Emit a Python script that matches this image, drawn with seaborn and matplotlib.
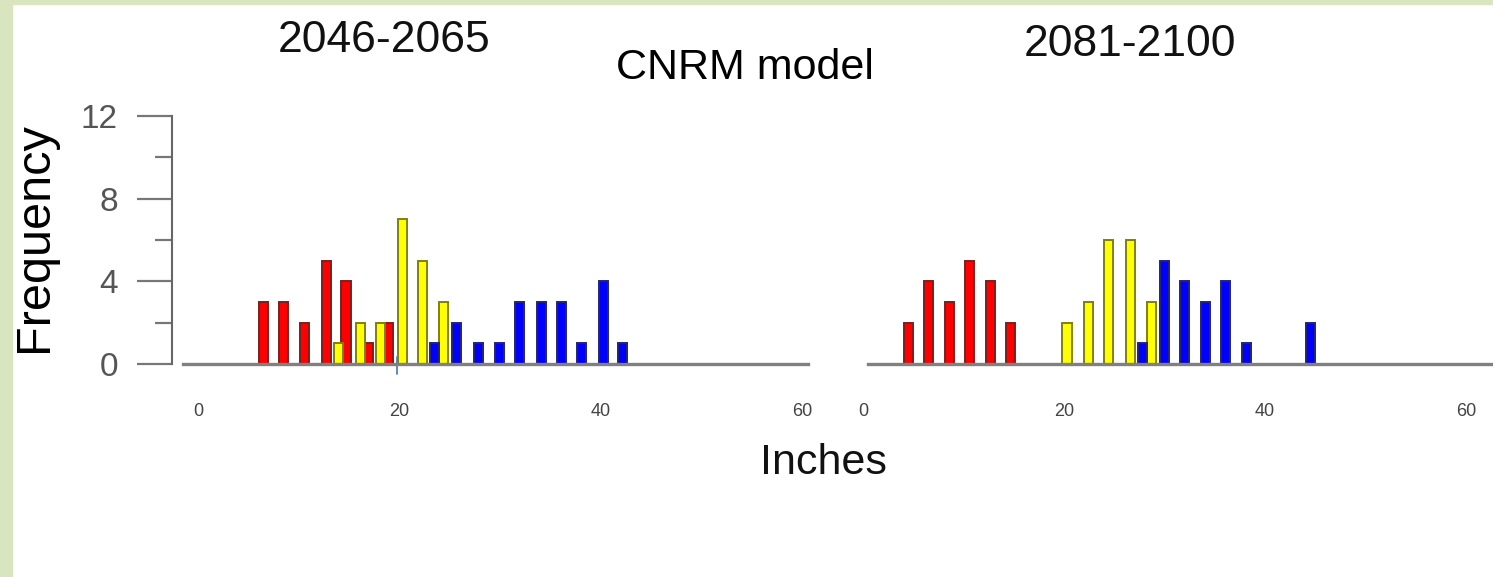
import numpy as np
import pandas as pd
import seaborn as sns
import matplotlib.pyplot as plt
from matplotlib.patches import Rectangle
from matplotlib.ticker import MultipleLocator

# Bar centres (inches) and counts
left_red_x = [6.5, 8.5, 10.6, 12.8, 14.7, 16.9, 18.9]
left_red_n = [3, 3, 2, 5, 4, 1, 2]
left_yellow_x = [14.0, 16.1, 18.1, 20.3, 22.3, 24.4]
left_yellow_n = [1, 2, 2, 7, 5, 3]
left_blue_x = [23.5, 25.7, 27.9, 29.9, 31.9, 34.1, 36.1, 38.1, 40.3, 42.2]
left_blue_n = [1, 2, 1, 1, 3, 3, 3, 1, 4, 1]

right_red_x = [4.5, 6.5, 8.6, 10.6, 12.7, 14.7]
right_red_n = [2, 4, 3, 5, 4, 2]
right_yellow_x = [20.3, 22.4, 24.4, 26.6, 28.7]
right_yellow_n = [2, 3, 6, 6, 3]
right_blue_x = [27.8, 30.0, 32.0, 34.1, 36.1, 38.2, 44.5]
right_blue_n = [1, 5, 4, 3, 4, 1, 2]

x_ticks = [0, 20, 40, 60]
y_ticks = [0, 4, 8, 12]
titles = ["2046-2065", "2081-2100"]

sns.set_theme(style="white")
plt.rcParams["font.family"] = ["Liberation Sans", "DejaVu Sans"]

W, H = 1493, 577
fig = plt.figure(figsize=(W / 100, H / 100), dpi=100)
fig.patch.set_facecolor("white")
fig.patches.append(Rectangle((0, 0), 12 / W, 1, transform=fig.transFigure,
                             color="#d9e5bf", zorder=-1))
fig.patches.append(Rectangle((0, 1 - 4 / H), 1, 4 / H, transform=fig.transFigure,
                             color="#d9e5bf", zorder=-1))


def px(x, y):
    return x / W, 1 - y / H


ax_l = fig.add_axes([172 / W, 1 - 364 / H, (808 - 172) / W, (364 - 116) / H])
ax_r = fig.add_axes([852 / W, 1 - 364 / H, (W - 852) / W, (364 - 116) / H])

colors = {"red": ("#ff0000", "#7a2020"),
          "yellow": ("#ffff00", "#7f7f10"),
          "blue": ("#0000ff", "#252570")}

panels = [
    (ax_l, {"red": (left_red_x, left_red_n),
            "yellow": (left_yellow_x, left_yellow_n),
            "blue": (left_blue_x, left_blue_n)}),
    (ax_r, {"red": (right_red_x, right_red_n),
            "yellow": (right_yellow_x, right_yellow_n),
            "blue": (right_blue_x, right_blue_n)}),
]

bar_w = 0.9  # inches
for ax, series in panels:
    for name, (xs, ns) in series.items():
        df = pd.DataFrame({"inches": xs, "count": ns})
        step = np.diff(np.sort(df["inches"].values)).min()
        face, edge = colors[name]
        sns.barplot(data=df, x="inches", y="count", native_scale=True,
                    width=bar_w / step, color=face, saturation=1,
                    edgecolor=edge, linewidth=1.4, errorbar=None, ax=ax)
    ax.set_xlabel("")
    ax.set_ylabel("")
    ax.set_ylim(0, 12)
    ax.set_facecolor("none")
    for s in ["top", "right"]:
        ax.spines[s].set_visible(False)
    ax.spines["bottom"].set_color("#808080")
    ax.spines["bottom"].set_linewidth(2.4)
    ax.set_xticks(x_ticks)
    ax.set_xticklabels([str(t) for t in x_ticks])
    ax.tick_params(axis="x", length=0, pad=28, labelsize=13, labelcolor="#444444")

ax_l.set_xlim(-2.58, 60.58)
ax_l.spines["bottom"].set_bounds(-1.49, 60.58)
ax_r.set_xlim(-1.1, 62.7)
ax_r.spines["bottom"].set_bounds(0.5, 62.7)

ax_l.spines["left"].set_color("#666666")
ax_l.spines["left"].set_linewidth(1.5)
ax_l.set_yticks(y_ticks)
ax_l.yaxis.set_minor_locator(MultipleLocator(2))
ax_l.tick_params(axis="y", which="major", direction="out", left=True, length=25,
                 width=1.6, color="#777777", pad=14, labelcolor="#555555",
                 labelsize=24)
ax_l.tick_params(axis="y", which="minor", direction="out", left=True, length=12.5,
                 width=1.6, color="#777777")

ax_r.spines["left"].set_visible(False)
ax_r.set_yticks([])

# small stray tick under 20 on the left panel
ax_l.axvline(19.8, ymin=-0.04, ymax=0.03, clip_on=False, color="#4f81bd", lw=1.3)

fig.text(*px(384, 40), titles[0], ha="center", va="center", fontsize=32,
         color="#111111")
fig.text(*px(1130, 44), titles[1], ha="center", va="center", fontsize=32,
         color="#111111")
fig.text(*px(745, 68), "CNRM model", ha="center", va="center", fontsize=31,
         color="black")
fig.text(*px(823, 463), "Inches", ha="center", va="center", fontsize=31,
         color="#111111")
fig.text(*px(35, 237), "Frequency", ha="center", va="center", fontsize=35,
         rotation=90, color="black")

fig.savefig("out.png", dpi=100)
